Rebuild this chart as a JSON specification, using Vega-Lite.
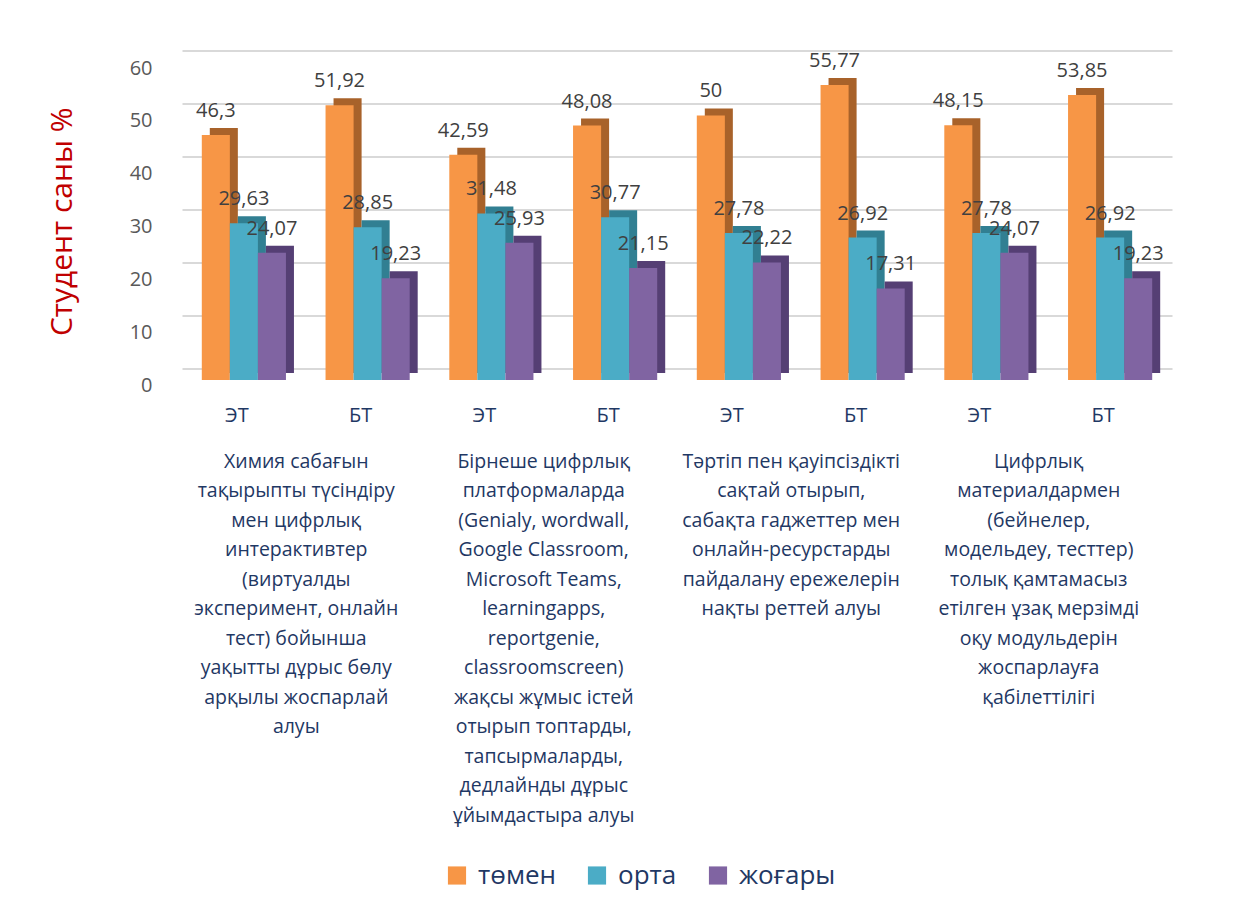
{
  "$schema": "https://vega.github.io/schema/vega-lite/v6.json",
  "autosize": {"type": "none"},
  "width": 990,
  "height": 317.5,
  "padding": {"left": 182, "top": 62.5, "right": 73, "bottom": 537},
  "background": "white",
  "config": {
    "locale": {"number": {"decimal": ",", "thousands": " ", "grouping": [3], "currency": ["", ""]}},
    "view": {"stroke": null},
    "font": "Open Sans"
  },
  "datasets": {
    "bars": [
      {"col": "ЭТ1", "level": "төмен", "value": 46.3},
      {"col": "ЭТ1", "level": "орта", "value": 29.63},
      {"col": "ЭТ1", "level": "жоғары", "value": 24.07},
      {"col": "БТ1", "level": "төмен", "value": 51.92},
      {"col": "БТ1", "level": "орта", "value": 28.85},
      {"col": "БТ1", "level": "жоғары", "value": 19.23},
      {"col": "ЭТ2", "level": "төмен", "value": 42.59},
      {"col": "ЭТ2", "level": "орта", "value": 31.48},
      {"col": "ЭТ2", "level": "жоғары", "value": 25.93},
      {"col": "БТ2", "level": "төмен", "value": 48.08},
      {"col": "БТ2", "level": "орта", "value": 30.77},
      {"col": "БТ2", "level": "жоғары", "value": 21.15},
      {"col": "ЭТ3", "level": "төмен", "value": 50},
      {"col": "ЭТ3", "level": "орта", "value": 27.78},
      {"col": "ЭТ3", "level": "жоғары", "value": 22.22},
      {"col": "БТ3", "level": "төмен", "value": 55.77},
      {"col": "БТ3", "level": "орта", "value": 26.92},
      {"col": "БТ3", "level": "жоғары", "value": 17.31},
      {"col": "ЭТ4", "level": "төмен", "value": 48.15},
      {"col": "ЭТ4", "level": "орта", "value": 27.78},
      {"col": "ЭТ4", "level": "жоғары", "value": 24.07},
      {"col": "БТ4", "level": "төмен", "value": 53.85},
      {"col": "БТ4", "level": "орта", "value": 26.92},
      {"col": "БТ4", "level": "жоғары", "value": 19.23}
    ],
    "desc": [
      {"pair": 1, "text": "Химия сабағын\nтақырыпты түсіндіру\nмен цифрлық\nинтерактивтер\n(виртуалды\nэксперимент, онлайн\nтест) бойынша\nуақытты дұрыс бөлу\nарқылы жоспарлай\nалуы"},
      {"pair": 2, "text": "Бірнеше цифрлық\nплатформаларда\n(Genialy, wordwall,\nGoogle Classroom,\nMicrosoft Teams,\nlearningapps,\nreportgenie,\nclassroomscreen)\nжақсы жұмыс істей\nотырып топтарды,\nтапсырмаларды,\nдедлайнды дұрыс\nұйымдастыра алуы"},
      {"pair": 3, "text": "Тәртіп пен қауіпсіздікті\nсақтай отырып,\nсабақта гаджеттер мен\nонлайн-ресурстарды\nпайдалану ережелерін\nнақты реттей алуы"},
      {"pair": 4, "text": "Цифрлық\nматериалдармен\n(бейнелер,\nмодельдеу, тесттер)\nтолық қамтамасыз\nетілген ұзақ мерзімді\nоқу модульдерін\nжоспарлауға\nқабілеттілігі"}
    ]
  },
  "layer": [
    {
      "data": {"name": "bars"},
      "encoding": {
        "x": {
          "field": "col", "type": "nominal",
          "sort": ["ЭТ1", "БТ1", "ЭТ2", "БТ2", "ЭТ3", "БТ3", "ЭТ4", "БТ4"],
          "scale": {"paddingInner": 0.32, "paddingOuter": 0.16},
          "axis": {
            "title": null, "domain": false, "ticks": false, "labelAngle": 0,
            "labelExpr": "substring(datum.label, 0, 2)",
            "labelFontSize": 20, "labelColor": "#1F3864", "labelPadding": 25, "labelOffset": -7
          }
        },
        "y": {
          "field": "value", "type": "quantitative",
          "scale": {"domain": [0, 60], "nice": false},
          "axis": {
            "values": [0, 10, 20, 30, 40, 50, 60],
            "domain": false, "ticks": false,
            "grid": true, "gridColor": "#D9D9D9", "gridWidth": 2,
            "tickOffset": -12, "labelOffset": 17.5,
            "labelFontSize": 20, "labelColor": "#595959", "labelPadding": 30,
            "title": "Студент саны %", "titleFontSize": 30, "titleFontWeight": "normal",
            "titleColor": "#C00000", "titlePadding": 52
          }
        }
      },
      "layer": [
        {
          "mark": {"type": "bar", "yOffset": -7, "y2Offset": -7},
          "encoding": {
            "xOffset": {"field": "level", "type": "nominal", "sort": ["төмен", "орта", "жоғары"], "scale": {"range": [8, 92.15]}},
            "color": {
              "field": "level", "type": "nominal",
              "scale": {"domain": ["төмен", "орта", "жоғары"], "range": ["#A8622A", "#317F92", "#553F74"]},
              "legend": null
            }
          }
        },
        {
          "mark": {"type": "bar"},
          "encoding": {
            "xOffset": {"field": "level", "type": "nominal", "sort": ["төмен", "орта", "жоғары"]},
            "color": {
              "field": "level", "type": "nominal",
              "scale": {"domain": ["төмен", "орта", "жоғары"], "range": ["#F79646", "#4BACC6", "#8064A2"]},
              "legend": {
                "title": null, "orient": "none", "legendX": 262, "legendY": 800,
                "direction": "horizontal", "symbolType": "square", "symbolSize": 330,
                "symbolStrokeWidth": 0, "labelFontSize": 26, "labelColor": "#1F3864",
                "labelOffset": 8, "columnPadding": 28
              }
            }
          }
        },
        {
          "mark": {"type": "text", "baseline": "alphabetic", "dy": -18, "fontSize": 20, "color": "#404040"},
          "encoding": {
            "xOffset": {"field": "level", "type": "nominal", "sort": ["төмен", "орта", "жоғары"]},
            "text": {"field": "value", "type": "quantitative", "format": ".4~g"}
          }
        }
      ],
      "resolve": {"scale": {"color": "independent", "xOffset": "independent"}}
    },
    {
      "data": {"name": "desc"},
      "mark": {"type": "text", "text": ""},
      "encoding": {
        "x": {
          "field": "text", "type": "nominal",
          "sort": {"field": "pair", "op": "min", "order": "ascending"},
          "scale": {"paddingInner": 0, "paddingOuter": 0},
          "axis": {
            "orient": "bottom", "offset": 72, "title": null, "domain": false, "ticks": false,
            "labelAngle": 0, "labelBaseline": "top", "labelLimit": 400,
            "labelExpr": "split(datum.label, '\\n')",
            "labelFontSize": 19.5, "labelLineHeight": 29.5, "labelColor": "#1F3864",
            "labelPadding": 0, "labelOffset": -10
          }
        }
      }
    }
  ],
  "resolve": {"scale": {"x": "independent"}}
}
